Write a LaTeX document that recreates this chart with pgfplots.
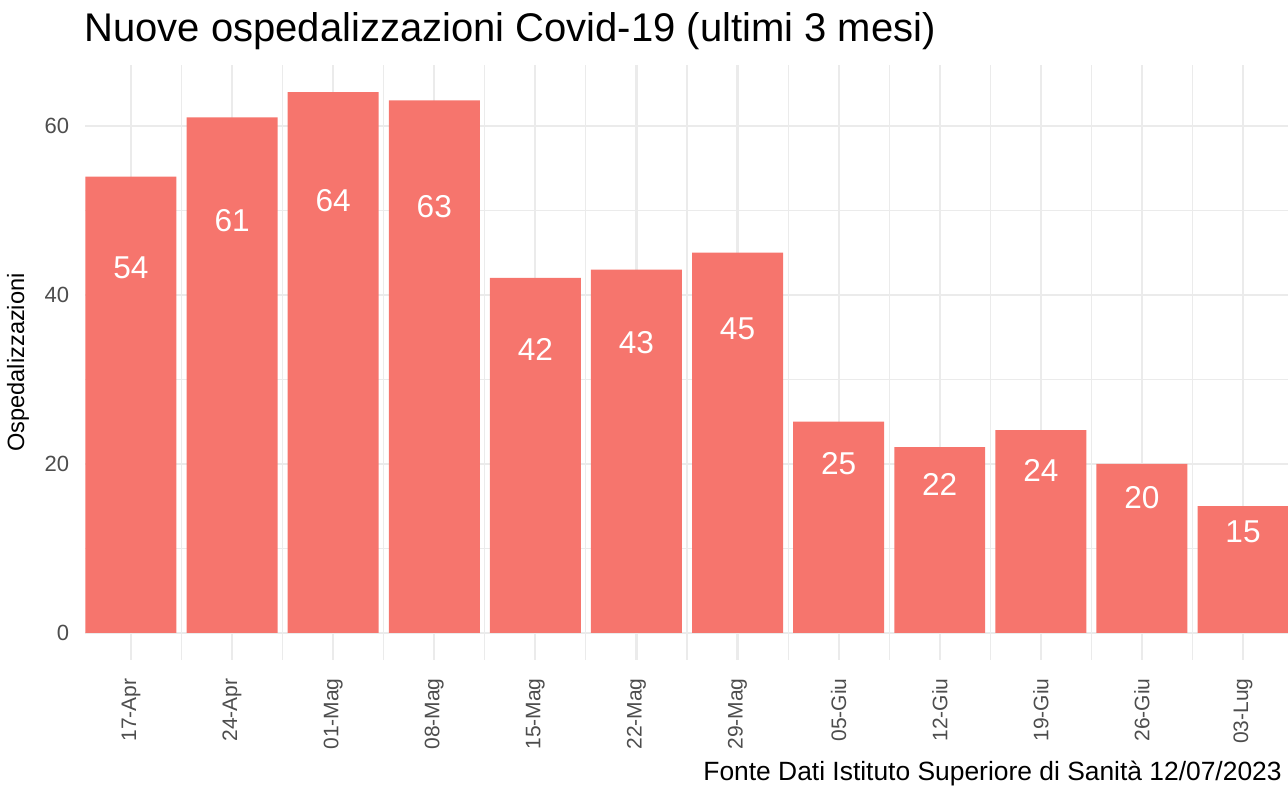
\documentclass[border=0pt]{standalone}
\usepackage{fontspec}
\setmainfont{Liberation Sans}
\usepackage{pgfplots}
\pgfplotsset{compat=1.18}
\usepackage{pgfplotstable}
\definecolor{barcol}{HTML}{F6756D}
\definecolor{gridcol}{HTML}{EBEBEB}
\definecolor{tickcol}{HTML}{4D4D4D}

\pgfplotstableread{
x v
0 54
1 61
2 64
3 63
4 42
5 43
6 45
7 25
8 22
9 24
10 20
11 15
}\data

\begin{document}
\begin{tikzpicture}
\path[use as bounding box] (-42.75pt,-63.5pt) rectangle (601.25pt,330pt);
\begin{axis}[
  at={(0,0)}, anchor=south west,
  scale only axis, width=601.5pt, height=297.5pt,
  xmin=-0.45, xmax=11.45, ymin=-3.2, ymax=67.2,
  axis line style={draw=none},
  major tick length=0pt, minor tick length=0pt,
  xtick={0,...,11},
  xticklabels={17-Apr,24-Apr,01-Mag,08-Mag,15-Mag,22-Mag,29-Mag,05-Giu,12-Giu,19-Giu,26-Giu,03-Lug},
  minor xtick={0.5,1.5,...,10.5},
  ytick={0,20,40,60}, minor ytick={10,30,50},
  grid=both,
  major grid style={gridcol, line width=1.1pt},
  minor grid style={gridcol, line width=0.55pt},
  /pgf/number format/assume math mode=true,
  xticklabel style={rotate=90, anchor=east, inner sep=0pt, font=\fontsize{10.5}{11}\selectfont, text=tickcol},
  xticklabel shift=9pt,
  yticklabel style={inner sep=0pt, font=\fontsize{11}{12}\selectfont, text=tickcol},
  yticklabel shift=8pt,
]
\addplot[ybar, bar width=0.9, fill=barcol, draw=none] table[x=x, y=v] {\data};
\addplot[draw=none, mark=none, nodes near coords, point meta=explicit,
  nodes near coords style={anchor=center, text=white, font=\fontsize{15.8}{17}\selectfont}]
  table[x=x, y expr=0.8*\thisrow{v}, meta=v] {\data};
\end{axis}
\node[anchor=base west, font=\fontsize{20}{24}\selectfont, inner sep=0pt] at (-0.75pt,309pt) {Nuove ospedalizzazioni Covid-19 (ultimi 3 mesi)};
\node[anchor=base east, font=\fontsize{13.2}{15}\selectfont, inner sep=0pt] at (598.25pt,-60pt) {Fonte Dati Istituto Superiore di Sanità 12/07/2023};
\node[rotate=90, font=\fontsize{11.8}{13}\selectfont, inner sep=0pt] at (-33.75pt,148.75pt) {Ospedalizzazioni};
\end{tikzpicture}
\end{document}
